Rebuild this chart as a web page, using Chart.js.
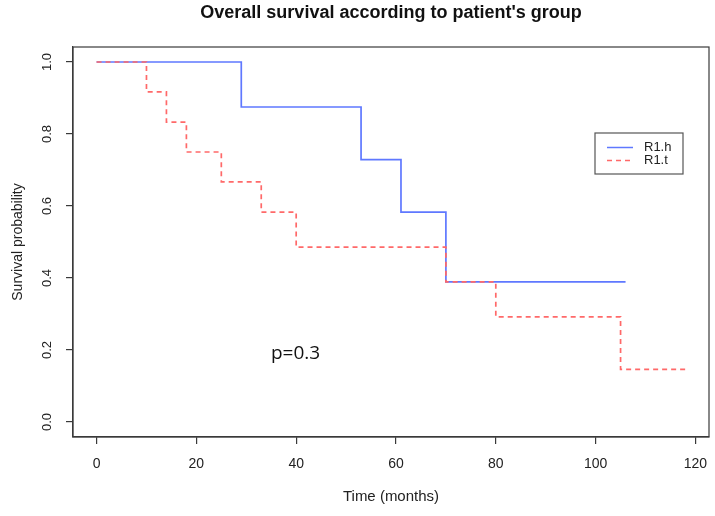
<!DOCTYPE html>
<html>
<head>
<meta charset="utf-8">
<script src="https://cdn.jsdelivr.net/npm/chart.js@4"></script>
<style>
html,body{margin:0;padding:0;background:#fff;}
canvas{display:block;}
</style>
</head>
<body>
<canvas id="c" width="715" height="516"></canvas>
<script>
const titleText = "Overall survival according to patient's group";
const xLabel = "Time (months)";
const yLabel = "Survival probability";
const pText = "p=0.3";

const seriesNames = ["R1.h", "R1.t"];
const timesH = [0, 29, 53, 61, 70, 106];
const survH  = [1.0, 0.875, 0.729, 0.583, 0.389, 0.389];
const timesT = [0, 10, 14, 18, 25, 33, 40, 70, 80, 105, 118];
const survT  = [1.0, 0.917, 0.833, 0.750, 0.667, 0.583, 0.486, 0.389, 0.292, 0.146, 0.146];

const xTicks = [0, 20, 40, 60, 80, 100, 120];
const yTicks = [0.0, 0.2, 0.4, 0.6, 0.8, 1.0];
const yTickLabels = ["0.0", "0.2", "0.4", "0.6", "0.8", "1.0"];

const blue = "rgb(95,120,255)";
const red = "rgb(255,105,105)";
const axisColor = "#3a3a3a";
const FONT = "'Liberation Sans', Arial, sans-serif";

const toPts = (xs, ys) => xs.map((x, i) => ({x: x, y: ys[i]}));

const decor = {
  id: 'decor',
  afterDraw(chart) {
    const ctx = chart.ctx;
    const a = chart.chartArea;
    const xs = chart.scales.x, ys = chart.scales.y;
    ctx.save();
    // box
    ctx.strokeStyle = axisColor;
    ctx.lineWidth = 1.2;
    ctx.strokeRect(a.left, a.top, a.right - a.left, a.bottom - a.top);
    // title
    ctx.fillStyle = "#111";
    ctx.font = "bold 18px " + FONT;
    ctx.textAlign = "center";
    ctx.textBaseline = "middle";
    ctx.fillText(titleText, (a.left + a.right) / 2, 13);
    // x tick labels
    ctx.font = "14px " + FONT;
    ctx.fillStyle = "#222";
    xTicks.forEach(v => {
      ctx.fillText(String(v), xs.getPixelForValue(v), 464);
    });
    // y tick labels rotated
    ctx.font = "13px " + FONT;
    yTicks.forEach((v, i) => {
      ctx.save();
      ctx.translate(47, ys.getPixelForValue(v));
      ctx.rotate(-Math.PI / 2);
      ctx.fillText(yTickLabels[i], 0, 0);
      ctx.restore();
    });
    // axis titles
    ctx.font = "15px " + FONT;
    ctx.fillText(xLabel, (a.left + a.right) / 2, 497);
    ctx.font = "14px " + FONT;
    ctx.save();
    ctx.translate(18, (a.top + a.bottom) / 2);
    ctx.rotate(-Math.PI / 2);
    ctx.fillText(yLabel, 0, 0);
    ctx.restore();
    // p value
    ctx.font = "19px 'Open Sans', 'Liberation Sans', sans-serif";
    ctx.fillStyle = "#111";
    ctx.textAlign = "left";
    ctx.fillText(pText, 271, 354);
    // legend
    const lx = 595, ly = 133, lw = 88, lh = 41;
    ctx.fillStyle = "#fff";
    ctx.fillRect(lx, ly, lw, lh);
    ctx.strokeStyle = "#555";
    ctx.lineWidth = 1.2;
    ctx.strokeRect(lx, ly, lw, lh);
    const ds = chart.data.datasets;
    const rows = [147.5, 160.5];
    ds.forEach((d, i) => {
      ctx.strokeStyle = d.borderColor;
      ctx.lineWidth = 1.5;
      ctx.setLineDash(d.borderDash || []);
      ctx.beginPath();
      ctx.moveTo(607, rows[i]);
      ctx.lineTo(633, rows[i]);
      ctx.stroke();
      ctx.setLineDash([]);
      ctx.fillStyle = "#222";
      ctx.font = "13px " + FONT;
      ctx.textAlign = "left";
      ctx.textBaseline = "middle";
      ctx.fillText(d.label, 644, rows[i]);
    });
    ctx.restore();
  }
};

new Chart(document.getElementById('c'), {
  type: 'scatter',
  data: {
    datasets: [
      {
        label: seriesNames[0],
        data: toPts(timesH, survH),
        showLine: true,
        stepped: 'before',
        borderColor: blue,
        backgroundColor: blue,
        borderWidth: 1.7,
        pointRadius: 0,
        fill: false,
        order: 1
      },
      {
        label: seriesNames[1],
        data: toPts(timesT, survT),
        showLine: true,
        stepped: 'before',
        borderColor: red,
        backgroundColor: red,
        borderWidth: 1.7,
        borderDash: [5, 4],
        pointRadius: 0,
        fill: false,
        order: 0
      }
    ]
  },
  options: {
    responsive: false,
    animation: false,
    devicePixelRatio: 1,
    layout: { padding: { left: 0, right: 6, top: 47, bottom: 0 } },
    plugins: { legend: { display: false }, title: { display: false }, tooltip: { enabled: false } },
    scales: {
      x: {
        type: 'linear',
        min: -4.72,
        max: 122.72,
        afterBuildTicks: s => { s.ticks = xTicks.map(v => ({ value: v })); },
        afterFit: s => { s.height = 79; },
        ticks: { display: false },
        grid: { display: true, drawOnChartArea: false, drawTicks: true, tickLength: 7, color: axisColor, lineWidth: 1.2 },
        border: { display: true, color: axisColor, width: 1.2 }
      },
      y: {
        type: 'linear',
        min: -0.0417,
        max: 1.0417,
        afterBuildTicks: s => { s.ticks = yTicks.map(v => ({ value: v })); },
        afterFit: s => { s.width = 73; },
        ticks: { display: false },
        grid: { display: true, drawOnChartArea: false, drawTicks: true, tickLength: 7, color: axisColor, lineWidth: 1.2 },
        border: { display: true, color: axisColor, width: 1.2 }
      }
    }
  },
  plugins: [decor]
});
</script>
</body>
</html>
